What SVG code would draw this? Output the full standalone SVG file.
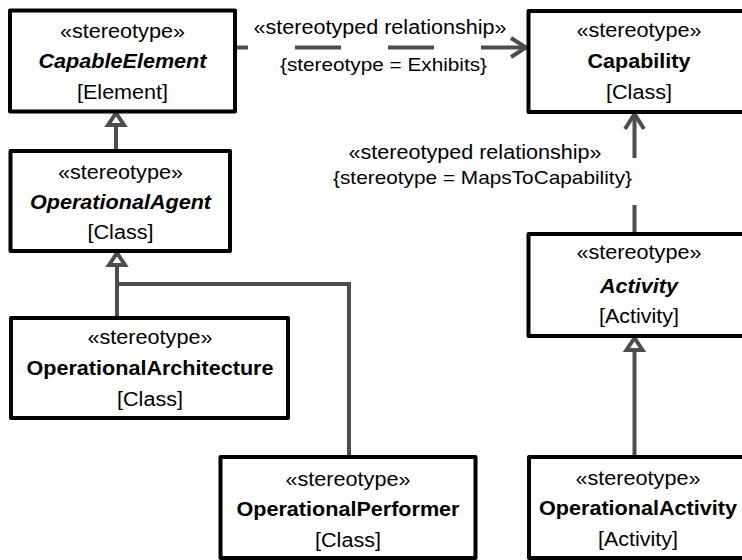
<svg xmlns="http://www.w3.org/2000/svg" width="742" height="560" viewBox="0 0 742 560">
  <style>
    .box { fill: #ffffff; stroke: #000000; stroke-width: 4; stroke-linejoin: round; }
    .t { font-family: "Liberation Sans", Arial, sans-serif; font-size: 20px; text-anchor: middle; fill: #000000; }
    .c { font-size: 19px; }
    .b { font-weight: bold; }
    .bi { font-weight: bold; font-style: italic; }
    .edge { fill: none; stroke: #4d4d4d; stroke-width: 4; }
    .dash { stroke-dasharray: 46 47; }
  </style>
  <defs>
    <marker id="gen" markerUnits="userSpaceOnUse" viewBox="-6 -12 24 24" markerWidth="24" markerHeight="24" refX="12" refY="0" orient="auto" overflow="visible">
      <path d="M0,-8 L12,0 L0,8 Z" fill="#ffffff" stroke="#4d4d4d" stroke-width="4" stroke-dasharray="none"/>
    </marker>
    <marker id="open" markerUnits="userSpaceOnUse" viewBox="-20 -14 24 28" markerWidth="24" markerHeight="28" refX="0" refY="0" orient="auto" overflow="visible">
      <path d="M-15,-9.5 L0,0 L-15,9.5" fill="none" stroke="#4d4d4d" stroke-width="4" stroke-dasharray="none"/>
    </marker>
  </defs>

  <g id="connectors">
    <path class="edge" d="M116,151 L116,113" marker-end="url(#gen)"/>
    <path class="edge" d="M117,318 L117,253" marker-end="url(#gen)"/>
    <path class="edge" d="M117,284 L349,284 L349,457"/>
    <path class="edge" d="M634.5,457 L634.5,338" marker-end="url(#gen)"/>
    <path class="edge dash" d="M237,47.5 L526,47.5" stroke-dashoffset="35" marker-end="url(#open)"/>
    <path class="edge dash" d="M634.5,236 L634.5,114" stroke-dashoffset="15" marker-end="url(#open)"/>
    <text class="t" x="380" y="33.5" textLength="253" lengthAdjust="spacingAndGlyphs">«stereotyped relationship»</text>
    <text class="t c" x="383.5" y="71" textLength="207" lengthAdjust="spacingAndGlyphs">{stereotype = Exhibits}</text>
    <text class="t" x="475" y="158.5" textLength="253" lengthAdjust="spacingAndGlyphs">«stereotyped relationship»</text>
    <text class="t c" x="482.5" y="183.5" textLength="299" lengthAdjust="spacingAndGlyphs">{stereotype = MapsToCapability}</text>
  </g>

  <g id="CapableElement">
    <rect class="box" x="10" y="10.5" width="225" height="101"/>
    <text class="t" x="122.5" y="37.5" textLength="125" lengthAdjust="spacingAndGlyphs">«stereotype»</text>
    <text class="t bi" x="122.5" y="68" textLength="168" lengthAdjust="spacingAndGlyphs">CapableElement</text>
    <text class="t" x="122.5" y="98.5" textLength="91" lengthAdjust="spacingAndGlyphs">[Element]</text>
  </g>

  <g id="Capability">
    <rect class="box" x="528.5" y="11" width="222" height="101"/>
    <text class="t" x="639" y="37" textLength="125" lengthAdjust="spacingAndGlyphs">«stereotype»</text>
    <text class="t b" x="639" y="68" textLength="103" lengthAdjust="spacingAndGlyphs">Capability</text>
    <text class="t" x="639" y="98.5" textLength="66" lengthAdjust="spacingAndGlyphs">[Class]</text>
  </g>

  <g id="OperationalAgent">
    <rect class="box" x="10.5" y="151" width="219.5" height="100"/>
    <text class="t" x="120.5" y="179" textLength="125" lengthAdjust="spacingAndGlyphs">«stereotype»</text>
    <text class="t bi" x="120.5" y="208.5" textLength="181" lengthAdjust="spacingAndGlyphs">OperationalAgent</text>
    <text class="t" x="120.5" y="238.5" textLength="66" lengthAdjust="spacingAndGlyphs">[Class]</text>
  </g>

  <g id="OperationalArchitecture">
    <rect class="box" x="11" y="318" width="277" height="100"/>
    <text class="t" x="150" y="343.5" textLength="125" lengthAdjust="spacingAndGlyphs">«stereotype»</text>
    <text class="t b" x="150" y="375" textLength="247" lengthAdjust="spacingAndGlyphs">OperationalArchitecture</text>
    <text class="t" x="150" y="406" textLength="66" lengthAdjust="spacingAndGlyphs">[Class]</text>
  </g>

  <g id="OperationalPerformer">
    <rect class="box" x="220.5" y="457" width="255" height="101"/>
    <text class="t" x="348" y="485.5" textLength="125" lengthAdjust="spacingAndGlyphs">«stereotype»</text>
    <text class="t b" x="348" y="516" textLength="223" lengthAdjust="spacingAndGlyphs">OperationalPerformer</text>
    <text class="t" x="348" y="547" textLength="66" lengthAdjust="spacingAndGlyphs">[Class]</text>
  </g>

  <g id="Activity">
    <rect class="box" x="528.5" y="234" width="222" height="102"/>
    <text class="t" x="639" y="259" textLength="125" lengthAdjust="spacingAndGlyphs">«stereotype»</text>
    <text class="t bi" x="639" y="293" textLength="78" lengthAdjust="spacingAndGlyphs">Activity</text>
    <text class="t" x="639" y="323" textLength="80" lengthAdjust="spacingAndGlyphs">[Activity]</text>
  </g>

  <g id="OperationalActivity">
    <rect class="box" x="529" y="457" width="222" height="101"/>
    <text class="t" x="638" y="485" textLength="125" lengthAdjust="spacingAndGlyphs">«stereotype»</text>
    <text class="t b" x="638" y="515" textLength="198" lengthAdjust="spacingAndGlyphs">OperationalActivity</text>
    <text class="t" x="638" y="546" textLength="80" lengthAdjust="spacingAndGlyphs">[Activity]</text>
  </g>
</svg>
